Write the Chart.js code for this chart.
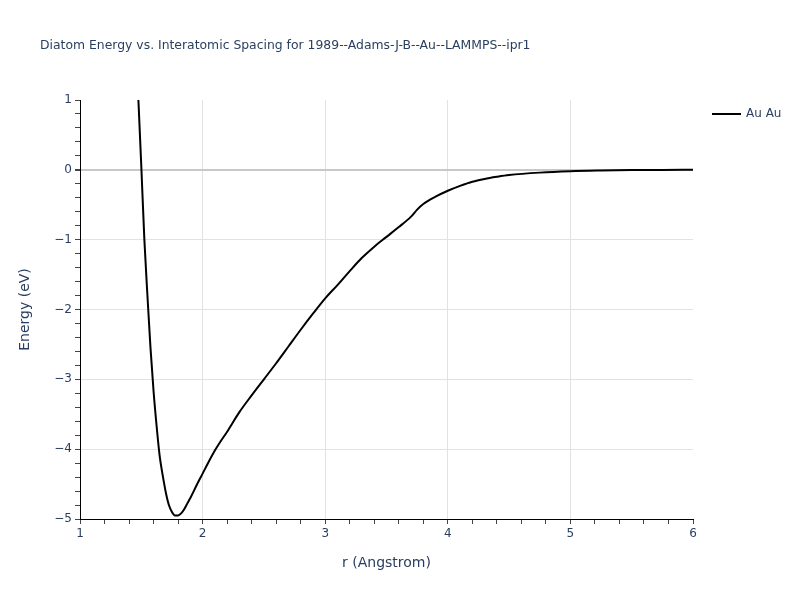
<!DOCTYPE html>
<html>
<head>
<meta charset="utf-8">
<script src="https://cdn.jsdelivr.net/npm/chart.js@4"></script>
<style>
  html, body { margin: 0; padding: 0; background: #fff; }
  #wrap { width: 800px; height: 600px; }
</style>
</head>
<body>
<div id="wrap"><canvas id="diatom" width="800" height="600"></canvas></div>
<script>
// r (Angstrom) and energy (eV)
var rValues = [1.47, 1.5, 1.525, 1.55, 1.575, 1.6, 1.625, 1.65, 1.675, 1.7, 1.725, 1.75,
  1.775, 1.8, 1.825, 1.85, 1.875, 1.9, 1.95, 2.0, 2.05, 2.1, 2.15, 2.2, 2.3, 2.4, 2.5,
  2.6, 2.7, 2.8, 2.9, 3.0, 3.1, 3.2, 3.3, 3.4, 3.5, 3.6, 3.7, 3.75, 3.8, 3.9, 4.0, 4.1,
  4.2, 4.3, 4.4, 4.5, 4.75, 5.0, 5.25, 5.5, 5.75, 6.0];
var energyValues = [1.25, 0.05, -1.0, -1.8, -2.55, -3.17, -3.67, -4.1, -4.38, -4.62, -4.8, -4.9,
  -4.95, -4.95, -4.92, -4.86, -4.78, -4.7, -4.52, -4.35, -4.18, -4.02, -3.88, -3.75, -3.47,
  -3.23, -3.0, -2.77, -2.53, -2.29, -2.06, -1.84, -1.65, -1.45, -1.26, -1.1, -0.96, -0.82,
  -0.67, -0.57, -0.49, -0.385, -0.3, -0.23, -0.17, -0.13, -0.1, -0.075, -0.04, -0.02, -0.01,
  -0.004, -0.001, 0];
var seriesName = 'Au Au';
var xTicks = [1, 2, 3, 4, 5, 6];
var yTicks = [-5, -4, -3, -2, -1, 0, 1];

var FONT = '"DejaVu Sans", verdana, sans-serif';
var TXT = '#2a3f5f';

function isMajor(v) { return Math.abs(v - Math.round(v)) < 1e-6; }
function fmt(v) {
  var n = Math.round(v);
  return n < 0 ? '\u2212' + Math.abs(n) : String(n);
}

var extraText = {
  id: 'extraText',
  afterDraw: function(chart) {
    var c = chart.ctx, a = chart.chartArea;
    c.save();
    c.fillStyle = TXT;
    c.textBaseline = 'middle';
    // title
    c.font = '12.4px ' + FONT;
    c.textAlign = 'left';
    c.fillText('Diatom Energy vs. Interatomic Spacing for 1989--Adams-J-B--Au--LAMMPS--ipr1', 40, 46);
    // x title
    c.font = '14px ' + FONT;
    c.textAlign = 'center';
    c.fillText('r (Angstrom)', (a.left + a.right) / 2, 563);
    // y title
    c.save();
    c.translate(25, (a.top + a.bottom) / 2);
    c.rotate(-Math.PI / 2);
    c.fillText('Energy (eV)', 0, 0);
    c.restore();
    // legend
    c.strokeStyle = '#000';
    c.lineWidth = 2;
    c.beginPath();
    c.moveTo(712, 114);
    c.lineTo(741, 114);
    c.stroke();
    c.font = '12px ' + FONT;
    c.textAlign = 'left';
    c.fillText(seriesName, 746, 114);
    c.restore();
  }
};

new Chart(document.getElementById('diatom'), {
  type: 'scatter',
  data: {
    datasets: [{
      label: seriesName,
      data: rValues.map(function(r, i) { return { x: r, y: energyValues[i] }; }),
      showLine: true,
      borderColor: '#000',
      borderWidth: 2,
      pointRadius: 0,
      cubicInterpolationMode: 'monotone',
      fill: false
    }]
  },
  options: {
    responsive: false,
    animation: false,
    layout: { padding: { left: 0, top: 100, right: 107, bottom: 0 } },
    plugins: { legend: { display: false }, title: { display: false }, tooltip: { enabled: false } },
    scales: {
      x: {
        type: 'linear',
        min: xTicks[0],
        max: xTicks[xTicks.length - 1],
        afterFit: function(s) { s.height = 81; },
        ticks: {
          stepSize: 0.2,
          autoSkip: false,
          maxRotation: 0,
          color: TXT,
          font: { family: FONT, size: 12 },
          padding: 3,
          callback: function(v) { return isMajor(v) ? fmt(v) : ''; }
        },
        grid: {
          drawTicks: true,
          tickLength: 5,
          tickColor: '#444',
          color: function(ctx) {
            var v = ctx.tick ? ctx.tick.value : 0;
            return (isMajor(v) && v > 1.5 && v < 5.5) ? '#e2e2e2' : 'rgba(0,0,0,0)';
          }
        },
        border: { display: true, color: '#000', width: 1 }
      },
      y: {
        type: 'linear',
        min: yTicks[0],
        max: yTicks[yTicks.length - 1],
        afterFit: function(s) { s.width = 80; },
        ticks: {
          stepSize: 0.2,
          autoSkip: false,
          color: TXT,
          font: { family: FONT, size: 12 },
          padding: 3,
          callback: function(v) { return isMajor(v) ? fmt(v) : ''; }
        },
        grid: {
          drawTicks: true,
          tickLength: 5,
          tickColor: '#444',
          color: function(ctx) {
            var v = ctx.tick ? ctx.tick.value : 0;
            if (!isMajor(v) || v < -4.5 || v > 0.5) return 'rgba(0,0,0,0)';
            return Math.abs(v) < 1e-6 ? '#c8c8c8' : '#e2e2e2';
          },
          lineWidth: function(ctx) {
            var v = ctx.tick ? ctx.tick.value : 1;
            return Math.abs(v) < 1e-6 ? 2 : 1;
          }
        },
        border: { display: true, color: '#000', width: 1 }
      }
    }
  },
  plugins: [extraText]
});
</script>
</body>
</html>
